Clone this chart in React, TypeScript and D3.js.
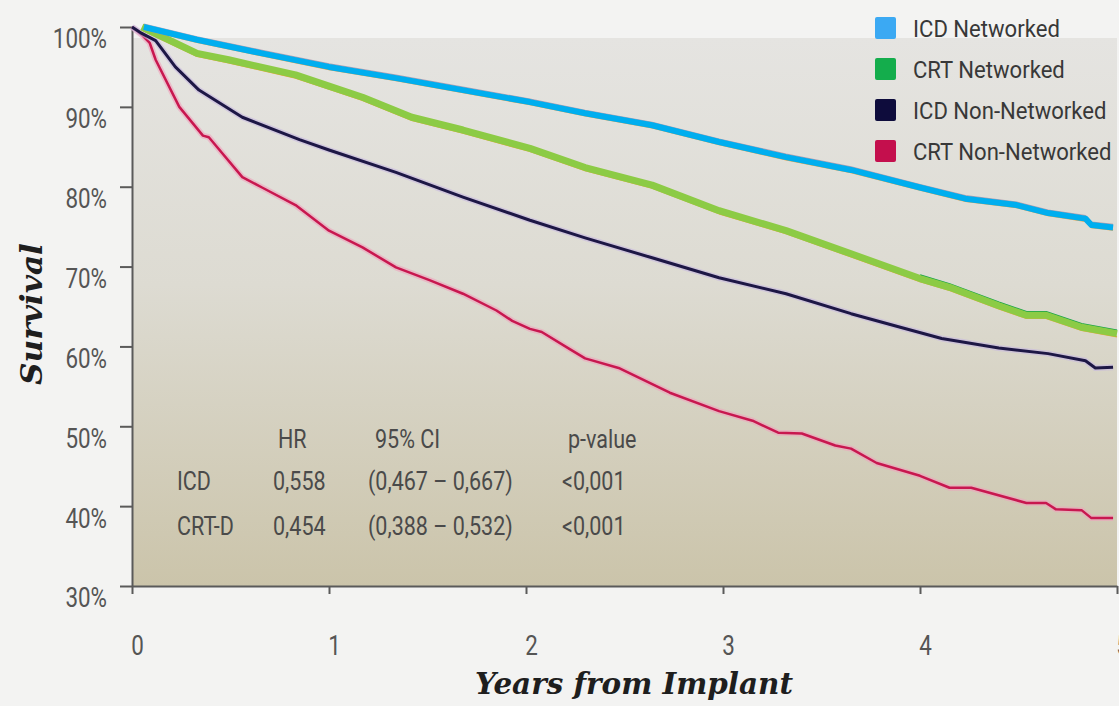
import React, { useEffect, useRef } from 'react';
import * as d3 from 'd3';

// chart frame (px inside the 1119x706 picture)
const W = 1119,
  H = 706;
const x0 = 132,
  x1 = 1117,
  yTop = 27,
  yBottom = 586;

const yTicks = [30, 40, 50, 60, 70, 80, 90, 100];
const xTicks = [0, 1, 2, 3, 4, 5];

const seriesNames = ['ICD Networked', 'CRT Networked', 'ICD Non-Networked', 'CRT Non-Networked'];
const legendColors = ['#3ba9f3', '#14ad4c', '#0e0c3c', '#c40f4d'];

// [years, survival %]
const icdNetworked: [number, number][] = [
  [0.06, 100], [0.33, 98.4], [0.66, 96.7], [1.0, 95.0], [1.34, 93.6], [1.68, 92.1],
  [2.02, 90.6], [2.3, 89.2], [2.64, 87.7], [2.98, 85.6], [3.32, 83.7], [3.65, 82.1],
  [4.0, 79.9], [4.23, 78.5], [4.49, 77.7], [4.65, 76.7], [4.84, 76.0], [4.87, 75.2], [4.98, 74.9],
];
const crtNetworked: [number, number][] = [
  [0.05, 100], [0.33, 96.7], [0.49, 95.9], [0.83, 94.0], [1.0, 92.6], [1.17, 91.2],
  [1.42, 88.7], [1.68, 87.1], [2.02, 84.8], [2.3, 82.4], [2.64, 80.2], [2.98, 77.0],
  [3.32, 74.5], [3.65, 71.6], [4.0, 68.5], [4.15, 67.4], [4.4, 65.1], [4.54, 63.9],
  [4.64, 63.9], [4.82, 62.4], [5.0, 61.6],
];
const icdNonNetworked: [number, number][] = [
  [0, 100], [0.05, 99.2], [0.12, 98.3], [0.22, 95.0], [0.34, 92.1], [0.56, 88.7],
  [0.85, 85.9], [1.0, 84.6], [1.34, 81.8], [1.68, 78.7], [2.02, 75.8], [2.3, 73.6],
  [2.64, 71.1], [2.98, 68.6], [3.32, 66.6], [3.65, 64.1], [3.9, 62.4], [4.11, 61.0],
  [4.4, 59.8], [4.65, 59.1], [4.84, 58.2], [4.89, 57.3], [4.98, 57.4],
];
const crtNonNetworked: [number, number][] = [
  [0, 100], [0.05, 99.0], [0.09, 98.0], [0.12, 95.9], [0.24, 90.0], [0.36, 86.4],
  [0.39, 86.2], [0.56, 81.2], [0.66, 79.9], [0.83, 77.7], [1.0, 74.5], [1.17, 72.4],
  [1.34, 69.9], [1.51, 68.3], [1.68, 66.6], [1.85, 64.5], [1.93, 63.2], [2.02, 62.2],
  [2.08, 61.8], [2.22, 59.7], [2.3, 58.5], [2.47, 57.3], [2.73, 54.2], [2.98, 51.9],
  [3.15, 50.7], [3.28, 49.2], [3.4, 49.1], [3.57, 47.6], [3.65, 47.2], [3.78, 45.4],
  [4.0, 43.8], [4.15, 42.3], [4.26, 42.3], [4.54, 40.4], [4.64, 40.4], [4.69, 39.6],
  [4.82, 39.5], [4.87, 38.5], [4.98, 38.5],
];

// hazard ratio table
const tableHeader = ['HR', '95% CI', 'p-value'];
const tableRows = ['ICD', 'CRT-D'];
const hrValues = ['0,558', '0,454'];
const ciValues = ['(0,467 – 0,667)', '(0,388 – 0,532)'];
const pValues = ['<0,001', '<0,001'];

const sans = "Roboto, 'Liberation Sans', sans-serif";
const slab = "'DejaVu Serif', serif";

// squeeze a text horizontally (no condensed face installed)
function condense(sel: any, k: number) {
  sel.each(function (this: SVGTextElement) {
    const len = this.getComputedTextLength();
    d3.select(this).attr('textLength', len * k).attr('lengthAdjust', 'spacingAndGlyphs');
  });
}

function App() {
  const svgRef = useRef<SVGSVGElement>(null);

  useEffect(() => {
    const svg = d3.select(svgRef.current);
    svg.selectAll('*').remove();

    const x = d3.scaleLinear().domain([0, 5]).range([x0, x1]);
    const y = d3.scaleLinear().domain([30, 100]).range([yBottom, yTop]);

    // background
    svg.append('rect').attr('width', W).attr('height', H).attr('fill', '#f3f3f2');
    const defs = svg.append('defs');
    const grad = defs
      .append('linearGradient')
      .attr('id', 'plotbg')
      .attr('x1', 0)
      .attr('y1', 0)
      .attr('x2', 0)
      .attr('y2', 1);
    grad.append('stop').attr('offset', '0%').attr('stop-color', '#e5e4e1');
    grad.append('stop').attr('offset', '45%').attr('stop-color', '#dddbd2');
    grad.append('stop').attr('offset', '100%').attr('stop-color', '#cbc4aa');
    svg
      .append('rect')
      .attr('x', x0)
      .attr('y', 38)
      .attr('width', x1 - x0)
      .attr('height', yBottom - 38)
      .attr('fill', 'url(#plotbg)');

    // axes
    const yAxis = svg
      .append('g')
      .attr('transform', 'translate(' + x0 + ',0)')
      .call(
        d3
          .axisLeft(y)
          .tickValues(yTicks)
          .tickFormat(d => d + '%')
          .tickSize(12)
          .tickSizeOuter(0)
          .tickPadding(13)
      );
    yAxis
      .selectAll('text')
      .attr('transform', 'translate(0,12)')
      .style('font-family', sans)
      .style('font-size', '28px')
      .attr('fill', '#555')
      .call(condense, 0.8);

    const xAxis = svg
      .append('g')
      .attr('transform', 'translate(0,' + yBottom + ')')
      .call(
        d3
          .axisBottom(x)
          .tickValues(xTicks)
          .tickFormat(d3.format('d'))
          .tickSize(8)
          .tickSizeOuter(0)
          .tickPadding(41)
      );
    xAxis
      .selectAll('text')
      .attr('transform', 'translate(5,0)')
      .style('font-family', sans)
      .style('font-size', '28px')
      .attr('fill', '#555')
      .call(condense, 0.8);

    svg.selectAll('.domain, .tick line').attr('stroke', '#5a5a5a').attr('stroke-width', 2);

    // curves
    const line = d3
      .line<[number, number]>()
      .x(d => x(d[0]))
      .y(d => y(d[1]));

    const draw = (data: [number, number][], color: string, w: number, dy = 0, op = 1) =>
      svg
        .append('path')
        .datum(data)
        .attr('d', line)
        .attr('transform', 'translate(0,' + dy + ')')
        .attr('fill', 'none')
        .attr('stroke', color)
        .attr('stroke-width', w)
        .attr('stroke-linejoin', 'round')
        .attr('opacity', op);

    draw(crtNonNetworked, '#efa3bd', 6, 0, 0.6);
    draw(crtNonNetworked, '#c8174f', 2.5);
    draw(icdNonNetworked, '#c6b7e0', 6, 0, 0.6);
    draw(icdNonNetworked, '#1d1745', 3);

    draw(crtNetworked, '#f5a13a', 1.5, 3);
    draw(crtNetworked.filter(d => d[0] >= 3.7), '#15a348', 2.5, -3);
    draw(crtNetworked, '#8ccb45', 7);

    draw(icdNetworked, '#f5a13a', 1.5, 2.5);
    draw(icdNetworked, '#7a5a86', 1.2, -3, 0.5);
    draw(icdNetworked, '#00aeef', 6);

    // legend
    const lg = svg
      .selectAll('.legend')
      .data(seriesNames)
      .enter()
      .append('g')
      .attr('transform', (d, i) => 'translate(875,' + (17 + i * 41) + ')');
    lg.append('rect')
      .attr('width', 21)
      .attr('height', 22)
      .attr('rx', 2)
      .attr('fill', (d, i) => legendColors[i]);
    lg.append('text')
      .attr('x', 38)
      .attr('y', 11)
      .attr('dy', '0.36em')
      .style('font-family', sans)
      .style('font-size', '24px')
      .attr('fill', '#383838')
      .text(d => d)
      .call(condense, 0.92);

    // HR table
    const cell = (tx: number, ty: number, t: string) =>
      svg
        .append('text')
        .attr('x', tx)
        .attr('y', ty)
        .text(t)
        .style('font-family', sans)
        .style('font-size', '25px')
        .attr('fill', '#4a4a4a')
        .call(condense, 0.86);
    const headX = [278, 375, 568];
    tableHeader.forEach((t, i) => cell(headX[i], 448, t));
    tableRows.forEach((r, i) => {
      const by = 490 + i * 45;
      cell(177, by, r);
      cell(273, by, hrValues[i]);
      cell(368, by, ciValues[i]);
      cell(562, by, pValues[i]);
    });

    // axis titles
    svg
      .append('text')
      .attr('x', 634)
      .attr('y', 694)
      .attr('text-anchor', 'middle')
      .attr('textLength', 318)
      .attr('lengthAdjust', 'spacingAndGlyphs')
      .style('font-family', slab)
      .style('font-size', '29px')
      .style('font-weight', 'bold')
      .style('font-style', 'italic')
      .attr('fill', '#1e1e1e')
      .text('Years from Implant');

    svg
      .append('text')
      .attr('transform', 'translate(42,314) rotate(-90)')
      .attr('text-anchor', 'middle')
      .attr('textLength', 142)
      .attr('lengthAdjust', 'spacingAndGlyphs')
      .style('font-family', slab)
      .style('font-size', '29px')
      .style('font-weight', 'bold')
      .style('font-style', 'italic')
      .attr('fill', '#1e1e1e')
      .text('Survival');
  }, []);

  return (
    <svg
      ref={svgRef}
      width={W}
      height={H}
      style={{ position: 'absolute', left: 0, top: 0, display: 'block' }}
    />
  );
}

export default App;
